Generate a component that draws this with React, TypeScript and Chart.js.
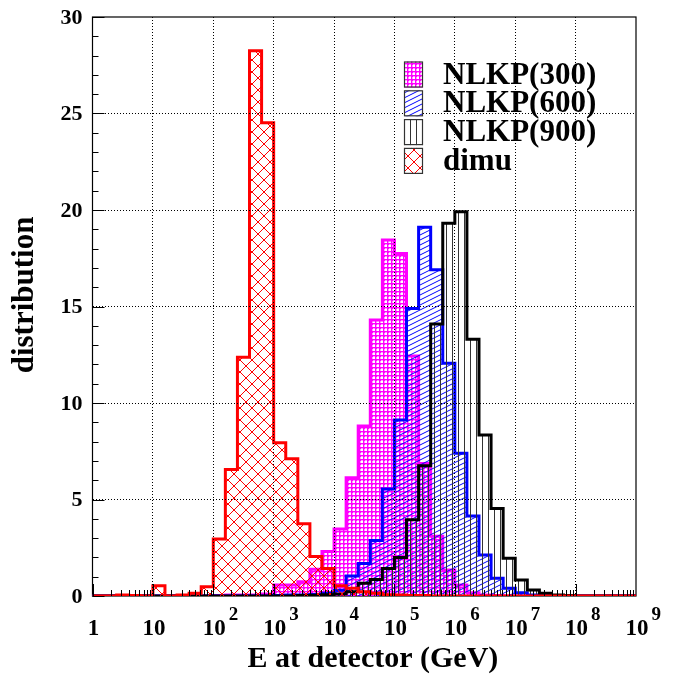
import React, { useEffect, useRef } from 'react';
import { Chart, registerables } from 'chart.js';

Chart.register(...registerables);

// ---- data ----
const binLowEdgesLog10 = [
  0, 0.2, 0.4, 0.6, 0.8, 1, 1.2, 1.4, 1.6, 1.8,
  2, 2.2, 2.4, 2.6, 2.8, 3, 3.2, 3.4, 3.6, 3.8,
  4, 4.2, 4.4, 4.6, 4.8, 5, 5.2, 5.4, 5.6, 5.8,
  6, 6.2, 6.4, 6.6, 6.8, 7, 7.2, 7.4, 7.6, 7.8,
  8, 8.2, 8.4, 8.6, 8.8,
];
const lastEdgeLog10 = 9;

const seriesLabels = ['NLKP(300)', 'NLKP(600)', 'NLKP(900)', 'dimu'];

const nlkp300 = [
  0, 0, 0, 0, 0, 0, 0, 0, 0, 0,
  0.03, 0.05, 0.05, 0.05, 0.1, 0.57, 0.57, 0.74, 1.38, 2.3,
  3.47, 6.13, 8.81, 14.3, 18.45, 17.75, 12.44, 6.87, 3.1, 1.35,
  0.57, 0.17, 0.05, 0.02, 0, 0, 0, 0, 0, 0,
  0, 0, 0, 0, 0,
];
const nlkp600 = [
  0, 0, 0, 0, 0, 0, 0, 0, 0, 0,
  0, 0, 0, 0, 0, 0.02, 0.05, 0.05, 0.08, 0.14,
  0.3, 1.04, 1.69, 2.87, 5.55, 9.12, 14.9, 19.1, 16.9, 12.06,
  7.39, 4.15, 2.12, 0.92, 0.4, 0.17, 0.05, 0.02, 0, 0,
  0, 0, 0, 0, 0,
];
const nlkp900 = [
  0, 0, 0, 0, 0, 0, 0, 0, 0, 0,
  0, 0, 0, 0, 0, 0, 0, 0.02, 0.04, 0.06,
  0.1, 0.22, 0.66, 0.86, 1.43, 2.0, 3.95, 6.75, 14.09, 19.31,
  19.91, 13.3, 8.34, 4.54, 1.95, 0.83, 0.31, 0.14, 0.05, 0.02,
  0, 0, 0, 0, 0,
];
const dimu = [
  0, 0, 0.05, 0.03, 0, 0.53, 0, 0.05, 0.14, 0.48,
  2.95, 6.56, 12.37, 28.25, 24.52, 7.94, 7.11, 3.75, 2.05, 1.43,
  0.53, 0.4, 0.22, 0.14, 0.06, 0.05, 0.03, 0.02, 0, 0,
  0, 0, 0, 0, 0, 0, 0, 0, 0, 0,
  0, 0, 0, 0, 0,
];

const yTickValues = [0, 5, 10, 15, 20, 25, 30];
const xTickExponents = [0, 1, 2, 3, 4, 5, 6, 7, 8, 9];
const xTickBase = ['1', '10', '10', '10', '10', '10', '10', '10', '10', '10'];
const xTickSup = ['', '', '2', '3', '4', '5', '6', '7', '8', '9'];

const xTitle = 'E at detector (GeV)';
const yTitle = 'distribution';

const FONT = '"Liberation Serif", "Times New Roman", serif';

// ---- patterns ----
function makePattern(kind: string): CanvasPattern | string {
  const c = document.createElement('canvas');
  const g = c.getContext('2d');
  if (!g) return 'transparent';
  if (kind === 'dots') {
    c.width = 4; c.height = 4;
    g.fillStyle = '#ff00ff';
    g.fillRect(0, 0, 4, 4);
    g.fillStyle = '#ff9cff';
    g.fillRect(1, 0, 2, 1);
    g.fillRect(0, 1, 1, 2);
    g.fillStyle = '#ffffff';
    g.fillRect(1, 1, 2, 2);
  } else if (kind === 'diag') {
    c.width = 10; c.height = 5;
    g.strokeStyle = '#0000ff';
    g.lineWidth = 1;
    for (let n = -1; n <= 1; n++) {
      g.beginPath();
      g.moveTo(-2, 5 + 1 + 5 * n);
      g.lineTo(12, 5 - 6 + 5 * n);
      g.stroke();
    }
  } else if (kind === 'vert') {
    c.width = 6; c.height = 6;
    g.fillStyle = '#333333';
    g.fillRect(2, 0, 1, 6);
  } else if (kind === 'cross') {
    c.width = 12; c.height = 12;
    g.strokeStyle = '#ff0000';
    g.lineWidth = 1;
    for (let n = -1; n <= 1; n++) {
      g.beginPath();
      g.moveTo(-1 + 12 * n, -1);
      g.lineTo(13 + 12 * n, 13);
      g.stroke();
      g.beginPath();
      g.moveTo(13 + 12 * n, -1);
      g.lineTo(-1 + 12 * n, 13);
      g.stroke();
    }
  }
  const p = g.createPattern(c, 'repeat');
  return p || 'transparent';
}

function toPoints(values: number[]) {
  const pts = binLowEdgesLog10.map((e, i) => ({ x: Math.pow(10, e), y: values[i] }));
  pts.push({ x: Math.pow(10, lastEdgeLog10), y: 0 });
  return pts;
}

export default function App() {
  const ref = useRef<HTMLCanvasElement | null>(null);

  useEffect(() => {
    const canvas = ref.current;
    if (!canvas) return;

    const patterns = [makePattern('dots'), makePattern('diag'), makePattern('vert'), makePattern('cross')];
    const colors = ['#ff00ff', '#0000ff', '#000000', '#ff0000'];
    const series = [nlkp300, nlkp600, nlkp900, dimu];
    const orders = [4, 3, 2, 1];

    const decor = {
      id: 'decor',
      beforeDatasetsDraw(chart: any) {
        const { ctx, chartArea: a } = chart;
        ctx.save();
        ctx.strokeStyle = '#000';
        ctx.lineWidth = 1.2;
        ctx.strokeRect(a.left, a.top, a.right - a.left, a.bottom - a.top);
        ctx.restore();
      },
      afterDatasetsDraw(chart: any) {
        const { ctx, chartArea: a } = chart;
        const xs = chart.scales.x;
        const ys = chart.scales.y;
        ctx.save();
        ctx.strokeStyle = '#000';
        ctx.lineWidth = 1;
        const yMin = yTickValues[0];
        const yMax = yTickValues[yTickValues.length - 1];
        for (let v = yMin; v <= yMax; v += 1) {
          const py = Math.round(ys.getPixelForValue(v)) + 0.5;
          const len = v % 5 === 0 ? 12 : 6;
          ctx.beginPath();
          ctx.moveTo(a.left, py);
          ctx.lineTo(a.left + len, py);
          ctx.stroke();
        }
        for (let d = xTickExponents[0]; d < xTickExponents[xTickExponents.length - 1]; d++) {
          for (let m = 1; m <= 9; m++) {
            const px = Math.round(xs.getPixelForValue(m * Math.pow(10, d))) + 0.5;
            const len = m === 1 ? 12 : 6;
            ctx.beginPath();
            ctx.moveTo(px, a.bottom);
            ctx.lineTo(px, a.bottom - len);
            ctx.stroke();
          }
        }
        ctx.restore();
      },
      afterDraw(chart: any) {
        const { ctx, chartArea: a } = chart;
        const xs = chart.scales.x;
        const ys = chart.scales.y;
        ctx.save();
        ctx.fillStyle = '#000';
        ctx.font = `bold 22px ${FONT}`;
        ctx.textAlign = 'right';
        ctx.textBaseline = 'middle';
        yTickValues.forEach((v) => {
          ctx.fillText(String(v), a.left - 10, ys.getPixelForValue(v) + 1);
        });
        xTickExponents.forEach((e, i) => {
          const px = xs.getPixelForValue(Math.pow(10, e));
          ctx.font = `bold 23px ${FONT}`;
          ctx.textAlign = 'center';
          ctx.textBaseline = 'alphabetic';
          const base = xTickBase[i];
          ctx.fillText(base, px + 1, a.bottom + 39);
          if (xTickSup[i]) {
            const w = ctx.measureText(base).width;
            ctx.font = `bold 19px ${FONT}`;
            ctx.textAlign = 'left';
            ctx.fillText(xTickSup[i], px + 1 + w / 2 + 3, a.bottom + 24);
          }
        });
        ctx.font = `bold 30px ${FONT}`;
        ctx.textAlign = 'center';
        ctx.textBaseline = 'alphabetic';
        ctx.fillText(xTitle, a.left + (a.right - a.left) * 0.516, a.bottom + 71);
        ctx.save();
        ctx.font = `bold 31px ${FONT}`;
        ctx.translate(33, a.top + (a.bottom - a.top) * 0.48);
        ctx.rotate(-Math.PI / 2);
        ctx.fillText(yTitle, 0, 0);
        ctx.restore();
        const bx = 404, by = 61.5, bw = 19, bh = 26, pitch = 28.8;
        seriesLabels.forEach((lab, i) => {
          const y0 = by + pitch * i;
          ctx.fillStyle = '#ffffff';
          ctx.fillRect(bx, y0, bw, bh);
          ctx.fillStyle = patterns[i] as any;
          ctx.fillRect(bx, y0, bw, bh);
          ctx.strokeStyle = '#333';
          ctx.lineWidth = 1.2;
          ctx.strokeRect(bx + 0.5, y0 + 0.5, bw - 1, bh - 1);
          ctx.fillStyle = '#000';
          ctx.font = `bold 31px ${FONT}`;
          ctx.textAlign = 'left';
          ctx.textBaseline = 'middle';
          ctx.fillText(lab, 443, y0 + bh / 2 + 1);
        });
        ctx.restore();
      },
    };

    const edgeTransparent = (min: number, max: number) => (c: any) => {
      const v = c.tick ? c.tick.value : null;
      if (v === null) return '#000';
      const tol = 1e-9 * Math.max(1, Math.abs(max));
      return Math.abs(v - min) < tol || Math.abs(v - max) < tol ? 'rgba(0,0,0,0)' : '#000';
    };

    const chart = new Chart(canvas, {
      type: 'line',
      data: {
        datasets: series.map((vals, i) => ({
          label: seriesLabels[i],
          data: toPoints(vals),
          stepped: 'before' as const,
          borderColor: colors[i],
          borderWidth: 3,
          backgroundColor: patterns[i] as any,
          fill: 'origin',
          pointRadius: 0,
          pointHoverRadius: 0,
          tension: 0,
          order: orders[i],
        })),
      },
      options: {
        animation: false,
        responsive: false,
        devicePixelRatio: 1,
        events: [],
        layout: { padding: { left: 0, top: 17, right: 43, bottom: 0 } },
        plugins: {
          legend: { display: false },
          tooltip: { enabled: false },
          title: { display: false },
        },
        scales: {
          x: {
            type: 'logarithmic',
            min: Math.pow(10, xTickExponents[0]),
            max: Math.pow(10, xTickExponents[xTickExponents.length - 1]),
            ticks: { display: false },
            grid: {
              color: edgeTransparent(1, 1e9),
              lineWidth: 1,
              drawTicks: false,
              z: 1,
            },
            border: { display: false, dash: [1, 2] },
            afterBuildTicks: (scale: any) => {
              scale.ticks = xTickExponents.map((e) => ({ value: Math.pow(10, e) }));
            },
            afterFit: (scale: any) => {
              scale.height = 83;
            },
          },
          y: {
            type: 'linear',
            min: yTickValues[0],
            max: yTickValues[yTickValues.length - 1],
            ticks: { display: false, stepSize: 5 },
            grid: {
              color: edgeTransparent(0, 30),
              lineWidth: 1,
              drawTicks: false,
              z: 1,
            },
            border: { display: false, dash: [1, 2] },
            afterFit: (scale: any) => {
              scale.width = 92.5;
            },
          },
        },
      } as any,
      plugins: [decor],
    });

    return () => chart.destroy();
  }, []);

  return (
    <div style={{ position: 'absolute', left: 0, top: 0, width: 679, height: 679, background: '#fff' }}>
      <canvas ref={ref} width={679} height={679} />
    </div>
  );
}
